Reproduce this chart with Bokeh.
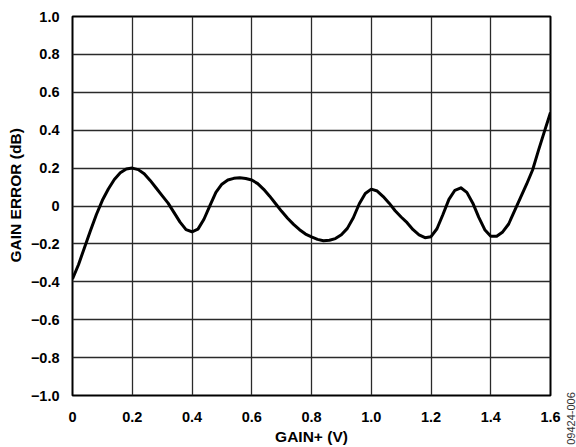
import math
from bokeh.plotting import figure
from bokeh.models import FixedTicker, Label, Title
from bokeh.layouts import row
from bokeh.embed import file_html
from bokeh.resources import INLINE

gain_v = [0.00, 0.02, 0.04, 0.06, 0.08, 0.10, 0.12, 0.14, 0.16, 0.18,
          0.20, 0.22, 0.24, 0.26, 0.28, 0.30, 0.32, 0.34, 0.36, 0.38,
          0.40, 0.42, 0.44, 0.46, 0.48, 0.50, 0.52, 0.54, 0.56, 0.58,
          0.60, 0.62, 0.64, 0.66, 0.68, 0.70, 0.72, 0.74, 0.76, 0.78,
          0.80, 0.82, 0.84, 0.86, 0.88, 0.90, 0.92, 0.94, 0.96, 0.98,
          1.00, 1.02, 1.04, 1.06, 1.08, 1.10, 1.12, 1.14, 1.16, 1.18,
          1.20, 1.22, 1.24, 1.26, 1.28, 1.30, 1.32, 1.34, 1.36, 1.38,
          1.40, 1.42, 1.44, 1.46, 1.48, 1.50, 1.52, 1.54, 1.56, 1.58, 1.60]
gain_error_db = [-0.385, -0.31, -0.22, -0.13, -0.045, 0.03, 0.09, 0.14, 0.175, 0.195,
                 0.200, 0.192, 0.17, 0.135, 0.095, 0.055, 0.015, -0.035, -0.085, -0.125,
                 -0.136, -0.122, -0.07, 0.002, 0.072, 0.115, 0.137, 0.146, 0.149, 0.145,
                 0.137, 0.118, 0.088, 0.052, 0.012, -0.028, -0.065, -0.097, -0.125, -0.148,
                 -0.163, -0.176, -0.183, -0.181, -0.172, -0.152, -0.118, -0.062, 0.012, 0.066,
                 0.089, 0.079, 0.05, 0.015, -0.025, -0.058, -0.088, -0.125, -0.152, -0.167,
                 -0.162, -0.12, -0.045, 0.035, 0.083, 0.096, 0.072, 0.015, -0.06, -0.125,
                 -0.16, -0.16, -0.137, -0.095, -0.025, 0.045, 0.115, 0.19, 0.295, 0.395, 0.493]

x_ticks = [0, 0.2, 0.4, 0.6, 0.8, 1.0, 1.2, 1.4, 1.6]
x_tick_labels = ["0", "0.2", "0.4", "0.6", "0.8", "1.0", "1.2", "1.4", "1.6"]
y_ticks = [-1.0, -0.8, -0.6, -0.4, -0.2, 0, 0.2, 0.4, 0.6, 0.8, 1.0]
y_tick_labels = ["\u22121.0", "\u22120.8", "\u22120.6", "\u22120.4", "\u22120.2", "0",
                 "0.2", "0.4", "0.6", "0.8", "1.0"]

FONT = "Liberation Sans"

p = figure(width=562, height=447, x_range=(0, 1.6), y_range=(-1.0, 1.0),
           output_backend="svg", toolbar_location=None,
           min_border_left=70, min_border_right=12, min_border_top=16, min_border_bottom=47)
p.background_fill_color = "white"
p.border_fill_color = "white"
p.outline_line_color = "black"
p.outline_line_width = 2
p.frame_align = False

p.xaxis.ticker = FixedTicker(ticks=x_ticks)
p.yaxis.ticker = FixedTicker(ticks=y_ticks)
p.xaxis.major_label_overrides = {t: l for t, l in zip(x_ticks, x_tick_labels)}
p.yaxis.major_label_overrides = {t: l for t, l in zip(y_ticks, y_tick_labels)}

for ax in (p.xaxis, p.yaxis):
    ax.axis_line_color = None
    ax.major_tick_line_color = None
    ax.minor_tick_line_color = None
    ax.major_label_text_font = FONT
    ax.major_label_text_font_style = "bold"
    ax.major_label_text_font_size = "14.5px"
    ax.major_label_text_color = "black"
    ax.axis_label_text_font = FONT
    ax.axis_label_text_font_style = "bold"
    ax.axis_label_text_font_size = "15.5px"
    ax.axis_label_text_color = "black"

p.xaxis.axis_label = "GAIN+ (V)"
p.xaxis.major_label_standoff = 10
p.yaxis.major_label_standoff = 7
p.xaxis.axis_label_standoff = 3

p.add_layout(Title(text="GAIN ERROR (dB)", align="left", offset=133, standoff=8,
                   text_font=FONT, text_font_style="bold", text_font_size="15.5px",
                   text_color="black"), "left")

p.xgrid.grid_line_color = "#2a2a2a"
p.ygrid.grid_line_color = "#2a2a2a"
p.xgrid.grid_line_width = 1.3
p.ygrid.grid_line_width = 1.3

p.line(gain_v, gain_error_db, line_color="black", line_width=3, line_join="round")

# narrow strip on the right carrying the figure number
w = figure(width=14, height=447, x_range=(0, 14), y_range=(0, 447),
           output_backend="svg", toolbar_location=None,
           x_axis_location=None, y_axis_location=None,
           min_border=0, min_border_left=0, min_border_right=0,
           min_border_top=0, min_border_bottom=0)
w.frame_align = False
w.grid.visible = False
w.outline_line_color = None
w.background_fill_color = "white"
w.border_fill_color = "white"
w.add_layout(Label(x=8, y=29, text="09424-006", angle=math.pi / 2,
                   text_align="center", text_baseline="middle",
                   text_font=FONT, text_font_size="11px", text_color="#333333"))

layout = row(p, w, spacing=0)
open("out.html", "w").write(file_html(layout, INLINE))
